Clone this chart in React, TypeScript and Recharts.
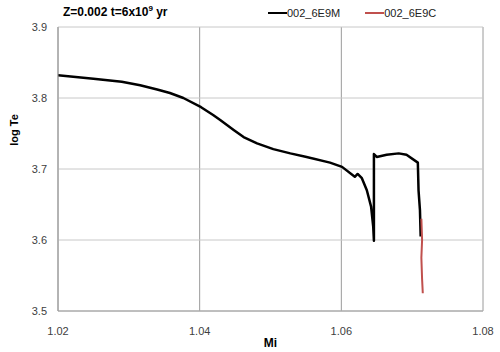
import { LineChart, Line, XAxis, YAxis, CartesianGrid } from 'recharts'

// black track (002_6E9M)
const massM = [
  1.02, 1.025, 1.029, 1.0316, 1.034, 1.0358, 1.0377, 1.0402, 1.0419, 1.0429, 1.0448, 1.0462,
  1.0481, 1.0504, 1.0528, 1.0551, 1.0584, 1.0601, 1.0619, 1.0623, 1.0629, 1.0636, 1.0642, 1.0645,
  1.0646, 1.0646, 1.065, 1.0664, 1.0681, 1.0692, 1.0708, 1.0709, 1.0711, 1.0712,
]
const logTeM = [
  3.832, 3.827, 3.823, 3.818, 3.812, 3.807, 3.8, 3.787, 3.776, 3.769, 3.755, 3.745, 3.736, 3.728,
  3.722, 3.717, 3.709, 3.703, 3.689, 3.693, 3.687, 3.67, 3.647, 3.619, 3.599, 3.721, 3.717, 3.72,
  3.722, 3.72, 3.709, 3.67, 3.642, 3.605,
]

// red track (002_6E9C)
const massC = [1.0713, 1.0714, 1.0713, 1.0714, 1.0715]
const logTeC = [3.63, 3.6, 3.575, 3.545, 3.525]

const xTicks = [1.02, 1.04, 1.06, 1.08]
const yTicks = [3.5, 3.6, 3.7, 3.8, 3.9]

const dataM = massM.map((m, i) => ({ m, te: logTeM[i] }))
const dataC = massC.map((m, i) => ({ m, te: logTeC[i] }))

const font = '"Liberation Sans", Arial, sans-serif'
const tickStyle = { fill: '#404040', fontSize: 11, fontFamily: font }

export default function App() {
  return (
    <div style={{ position: 'relative', width: 500, height: 352, background: '#fff', fontFamily: font }}>
      <style>{'body{margin:0}'}</style>
      <div style={{ position: 'absolute', left: 63, top: 4, fontSize: 12, fontWeight: 'bold', color: '#000' }}>
        Z=0.002 t=6x10<sup style={{ fontSize: 8 }}>9</sup> yr
      </div>
      <div style={{ position: 'absolute', left: 268, top: 7, fontSize: 11, color: '#222', display: 'flex', alignItems: 'center' }}>
        <span style={{ display: 'inline-block', width: 19, height: 2.5, background: '#000' }} />
        <span>002_6E9M</span>
        <span style={{ display: 'inline-block', width: 19, height: 2, background: '#c0504d', marginLeft: 25 }} />
        <span>002_6E9C</span>
      </div>
      <LineChart width={500} height={352} margin={{ top: 27, right: 17, bottom: 0, left: 0 }}>
        <CartesianGrid horizontal={false} stroke="#9a9a9a" />
        <CartesianGrid vertical={false} stroke="#c8c8c8" />
        <XAxis
          type="number"
          dataKey="m"
          domain={[1.02, 1.08]}
          ticks={xTicks}
          tickFormatter={(v: number) => v.toFixed(2)}
          tick={tickStyle}
          tickLine={false}
          tickSize={0}
          tickMargin={16}
          stroke="#9a9a9a"
          height={41}
          allowDataOverflow
          label={{ value: 'Mi', position: 'insideBottom', offset: 5, fontSize: 12, fontWeight: 'bold', fill: '#000', fontFamily: font }}
        />
        <YAxis
          type="number"
          dataKey="te"
          domain={[3.5, 3.9]}
          ticks={yTicks}
          tickFormatter={(v: number) => v.toFixed(1)}
          tick={tickStyle}
          tickLine={false}
          tickSize={0}
          tickMargin={11}
          stroke="#9a9a9a"
          width={58}
          allowDataOverflow
          label={{
            content: () => (
              <text
                x={14}
                y={130}
                transform="rotate(-90 14 130)"
                textAnchor="middle"
                dominantBaseline="central"
                fontSize={11}
                fontWeight="bold"
                fontFamily={font}
                fill="#000"
              >
                log Te
              </text>
            ),
          }}
        />
        <Line
          data={dataM}
          dataKey="te"
          type="linear"
          stroke="#000"
          strokeWidth={2.5}
          strokeLinejoin="round"
          dot={false}
          isAnimationActive={false}
        />
        <Line
          data={dataC}
          dataKey="te"
          type="linear"
          stroke="#c0504d"
          strokeWidth={2}
          dot={false}
          isAnimationActive={false}
        />
      </LineChart>
    </div>
  )
}
